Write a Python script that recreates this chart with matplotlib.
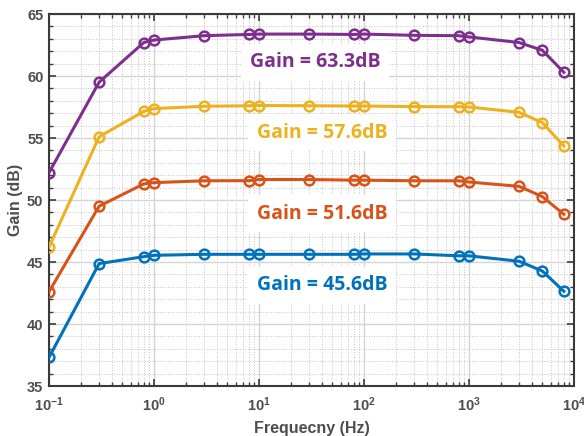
import matplotlib
matplotlib.use("Agg")
import matplotlib.pyplot as plt
import numpy as np
from matplotlib.ticker import LogLocator, MultipleLocator, NullFormatter

freq = [0.1, 0.3, 0.8, 1, 3, 8, 10, 30, 80, 100, 300, 800, 1000, 3000, 5000, 8000]
gain_63 = [52.2, 59.5, 62.7, 62.9, 63.25, 63.35, 63.38, 63.38, 63.35, 63.38, 63.28, 63.25, 63.15, 62.7, 62.07, 60.3]
gain_57 = [46.2, 55.1, 57.15, 57.37, 57.56, 57.6, 57.62, 57.6, 57.58, 57.58, 57.53, 57.52, 57.5, 57.07, 56.24, 54.35]
gain_51 = [42.6, 49.5, 51.3, 51.4, 51.55, 51.56, 51.65, 51.65, 51.6, 51.6, 51.55, 51.55, 51.45, 51.1, 50.27, 48.85]
gain_45 = [37.3, 44.87, 45.43, 45.54, 45.62, 45.62, 45.62, 45.62, 45.62, 45.65, 45.65, 45.5, 45.5, 45.06, 44.27, 42.64]

colors = ["#0072BD", "#D95319", "#EDB120", "#7E2F8E"]
labels = ["Gain = 45.6dB", "Gain = 51.6dB", "Gain = 57.6dB", "Gain = 63.3dB"]
series = [gain_45, gain_51, gain_57, gain_63]

fig = plt.figure(figsize=(5.84, 4.36), dpi=100)
ax = fig.add_axes([49/584, 1 - 386/436, (574-49)/584, (386-14)/436])

for vals, col in zip(series, colors):
    ax.plot(freq, vals, color=col, lw=2.2, marker='o', ms=7, mfc='none', mew=1.8, zorder=3)

ax.set_xscale('log')
ax.set_xlim(0.1, 1e4)
ax.set_ylim(35, 65)
ax.yaxis.set_major_locator(MultipleLocator(5))
ax.yaxis.set_minor_locator(MultipleLocator(1))
ax.xaxis.set_major_locator(LogLocator(base=10, numticks=10))
ax.xaxis.set_minor_locator(LogLocator(base=10, subs=np.arange(2, 10), numticks=20))
ax.xaxis.set_minor_formatter(NullFormatter())

ax.grid(which='major', color='#d4d4d4', lw=1, ls='-', zorder=0)
ax.grid(which='minor', color='#c4c4c4', lw=0.7, ls=':', zorder=0)
ax.set_axisbelow(True)

for s in ax.spines.values():
    s.set_color('#3a3a3a')
    s.set_linewidth(1.5)
ax.tick_params(which='both', direction='in', top=True, right=True, colors='#3a3a3a',
               labelsize=10.5, labelcolor='#4d4d4d')
ax.tick_params(axis='y', pad=4)
ax.tick_params(axis='x', pad=7)
ax.tick_params(which='major', length=5, width=1.2)
ax.tick_params(which='minor', length=3, width=1.0)
for t in ax.get_xticklabels() + ax.get_yticklabels():
    t.set_fontweight('bold')
    t.set_fontfamily('Liberation Sans')

ax.set_xlabel('Frequecny (Hz)', fontsize=11.5, fontweight='bold', color='#4d4d4d',
              family='Liberation Sans', labelpad=5)
ax.set_ylabel('Gain (dB)', fontsize=11.5, fontweight='bold', color='#4d4d4d',
              family='Liberation Sans', labelpad=3)

label_y = [43.12, 48.9, 55.42, 61.1]
label_x = [0.52, 0.52, 0.52, 0.5067]
for lab, col, lx, ly in zip(labels, colors, label_x, label_y):
    ax.text(lx, ly, lab, transform=ax.get_yaxis_transform(),
            ha='center', va='center', color=col, fontsize=14, fontweight='bold',
            family='Open Sans', zorder=4,
            bbox=dict(facecolor='white', edgecolor='none', pad=6))

fig.savefig('out.png', dpi=100)
